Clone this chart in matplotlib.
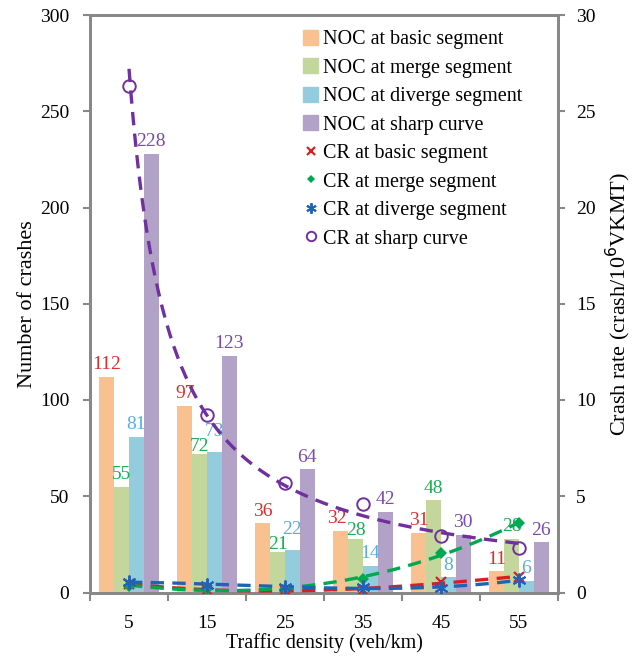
import matplotlib
matplotlib.use('Agg')
import matplotlib.pyplot as plt
from matplotlib.lines import Line2D
from matplotlib.patches import Patch
import numpy as np

## Dados
densidade = [5, 15, 25, 35, 45, 55]
noc_basic = [112, 97, 36, 32, 31, 11]
noc_merge = [55, 72, 21, 28, 48, 28]
noc_diverge = [81, 73, 22, 14, 8, 6]
noc_curve = [228, 123, 64, 42, 30, 26]

cr_basic = [0.45, 0.15, 0.12, 0.12, 0.55, 0.82]
cr_merge = [0.35, 0.2, 0.2, 0.7, 2.07, 3.6]
cr_diverge = [0.55, 0.4, 0.3, 0.28, 0.22, 0.66]
cr_curve = [26.3, 9.24, 5.7, 4.6, 2.96, 2.33]

plt.rcParams['font.family'] = ['Liberation Serif', 'DejaVu Serif']
plt.rcParams['font.size'] = 14

bar_cols = ['#f9c090', '#c3d69b', '#93cddd', '#b3a2c7']
txt_cols = ['#d9302b', '#1aae55', '#5aaede', '#7a4aae']
line_cols = ['#d62020', '#00a850', '#1f64b4', '#7030a0']

fig = plt.figure(figsize=(6.38, 6.58), dpi=100)
ax = fig.add_axes([90/638, 1-592.5/658, 468/638, (592.5-15)/658])
ax2 = ax.twinx()

idx = np.arange(len(densidade))
w = 0.19
series = [noc_basic, noc_merge, noc_diverge, noc_curve]
names = ['NOC at basic segment', 'NOC at merge segment',
         'NOC at diverge segment', 'NOC at sharp curve']

## deslocamento dos rotulos (evita sobreposicao de barras vizinhas)
dx = np.zeros((4, len(densidade)))
dy = np.full((4, len(densidade)), 2.5)
for i in range(len(densidade)):
    for k in range(3):
        v1, v2 = series[k][i], series[k + 1][i]
        if abs(v1 - v2) <= 2:
            dy[k + 1, i] += 6
            dy[k, i] -= 3
        elif abs(v1 - v2) <= 5:
            dx[k, i] -= 3
            dy[k + 1, i] -= 3

for k, vals in enumerate(series):
    xs = idx + (k - 1.5) * w
    ax.bar(xs, vals, width=w, color=bar_cols[k], linewidth=0)
    for i, (x, v) in enumerate(zip(xs, vals)):
        ax.annotate(str(v), (x, v), xytext=(dx[k, i], dy[k, i]),
                    textcoords='offset points', ha='center', va='bottom',
                    color=txt_cols[k], fontsize=14)

ax.set_xlim(-0.5, 5.5)
ax.set_ylim(0, 300)
ax.set_yticks(range(0, 301, 50))
ax.set_xticks(np.arange(-0.5, 6, 1))
ax.set_xticklabels([])
ax.set_xticks(idx, minor=True)
ax.set_xticklabels([str(d) for d in densidade], minor=True)
ax.tick_params(axis='x', which='minor', length=0, pad=16)
ax.tick_params(axis='x', which='major', length=6, width=1.5, color='#888888')
ax.tick_params(axis='y', length=5, width=1.5, color='#888888', pad=10)
ax.set_xlabel('Traffic density (veh/km)', fontsize=14.5, labelpad=1)
ax.set_ylabel('Number of crashes', fontsize=16, labelpad=2)

ax2.set_ylim(0, 30)
ax2.set_yticks(range(0, 31, 5))
ax2.tick_params(axis='y', length=5, width=1.5, color='#888888', pad=8)
ax2.set_ylabel('Crash rate (crash/10$^6$VKMT)', fontsize=16, labelpad=6)

for a in (ax, ax2):
    for s in a.spines.values():
        s.set_color('#888888')
        s.set_linewidth(2)

## Linhas de tendencia e marcadores
xd = np.array(densidade, dtype=float)
xf = np.linspace(5, 55, 200)
cr_series = [cr_basic, cr_merge, cr_diverge, cr_curve]
markers = [dict(marker='x', ms=7, mew=1.6),
           dict(marker='D', ms=6, mew=0),
           dict(marker=(6, 2, 0), ms=10, mew=1.4),
           dict(marker='o', ms=9, mew=1.4, mfc='none')]
cr_names = ['CR at basic segment', 'CR at merge segment',
            'CR at diverge segment', 'CR at sharp curve']
pos = (xd - 5) / 10

for k, vals in enumerate(cr_series):
    y = np.array(vals)
    if k == 3:
        b, a = np.polyfit(np.log(xd), np.log(y), 1)
        yf = np.exp(a) * xf ** b
    else:
        yf = np.polyval(np.polyfit(xd, y, 3), xf)
    ax2.plot((xf - 5) / 10, yf, color=line_cols[k], lw=2.4,
             linestyle=(0, (4, 2.5)), zorder=3)
    ax2.plot(pos, y, linestyle='none', color=line_cols[k], zorder=4, **markers[k])

handles = [Patch(color=bar_cols[k], label=names[k]) for k in range(4)]
handles += [Line2D([], [], linestyle='none', color=line_cols[k],
                   label=cr_names[k], **dict(markers[k], ms=markers[k]['ms'] * 0.75))
            for k in range(4)]
ax2.legend(handles=handles, loc='upper left', bbox_to_anchor=(0.43, 0.995),
           frameon=False, fontsize=14.5, handlelength=0.75, handleheight=0.75,
           handletextpad=0.25, labelspacing=0.45, borderaxespad=0.2)

fig.savefig('out.png', dpi=100)
